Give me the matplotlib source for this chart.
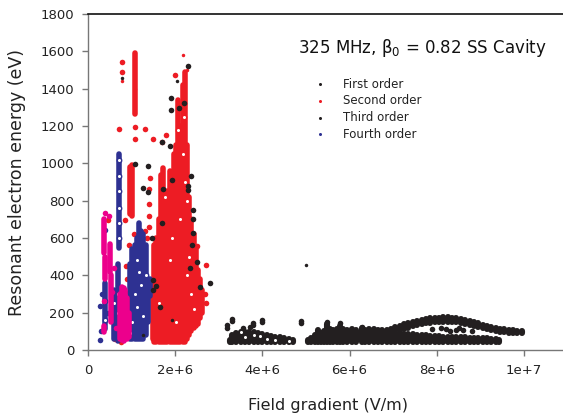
import matplotlib
matplotlib.use('Agg')
import matplotlib.pyplot as plt
from matplotlib.lines import Line2D

plt.rcParams['font.family'] = ['DejaVu Sans']
plt.rcParams['mathtext.fontset'] = 'dejavusans'

# ---------------- data (field gradient in MV/m, energy in eV) ----------------
# First order (black): vertical streaks of overlapping dots
first_x  = [3.25, 3.30, 3.40, 3.50, 3.60, 3.70, 3.80, 3.90, 4.00, 4.10, 4.20, 4.30, 4.40, 4.50, 4.60, 4.70,
            5.05, 5.12, 5.20, 5.27, 5.35, 5.42, 5.48, 5.55, 5.62, 5.70, 5.78, 5.85, 5.95, 6.05, 6.15,
            6.28, 6.35, 6.45, 6.55, 6.65, 6.75, 6.85, 6.95, 7.05, 7.15, 7.25, 7.35, 7.45, 7.55, 7.65,
            7.75, 7.85, 7.95, 8.05, 8.15, 8.25, 8.35, 8.45, 8.55, 8.65, 8.75, 8.85, 8.95, 9.05, 9.15,
            9.25, 9.35, 9.42]
first_lo = [44] * 64
first_hi = [55, 80, 90, 95, 98, 95, 98, 92, 88, 82, 76, 72, 68, 64, 60, 52,
            52, 66, 80, 105, 92, 100, 140, 115, 105, 110, 130, 112, 105, 110, 105,
            118, 105, 110, 112, 105, 106, 100, 96, 93, 90, 88, 86, 84, 82, 80,
            78, 76, 75, 74, 72, 71, 70, 69, 68, 67, 66, 65, 64, 63, 62,
            60, 58, 52]
# First order upper arc
arc_x  = [6.85, 6.95, 7.05, 7.15, 7.25, 7.35, 7.45, 7.55, 7.65, 7.75, 7.85, 7.95, 8.05, 8.15, 8.25,
          8.35, 8.45, 8.55, 8.65, 8.75, 8.85, 8.95, 9.05, 9.15, 9.25, 9.35, 9.45, 9.55, 9.65, 9.75,
          9.85, 9.95]
arc_lo = [92, 96, 102, 108, 114, 120, 126, 132, 137, 142, 146, 148, 150, 151, 151,
          150, 148, 145, 141, 136, 130, 124, 118, 112, 106, 102, 98, 95, 93, 92,
          92, 92]
arc_hi = [108, 115, 123, 131, 138, 144, 150, 155, 160, 165, 169, 172, 174, 175, 175,
          173, 170, 166, 161, 155, 149, 143, 136, 130, 124, 119, 114, 110, 107, 105,
          104, 103]
# First order single dots
first_px = [3.18, 3.18, 3.30, 3.30, 3.55, 3.72, 3.79, 3.79, 3.98, 3.98, 4.88, 4.88,
            5.48, 5.78, 6.28, 8.20, 8.30, 8.45, 8.80, 7.90, 8.60, 8.10, 8.50,
            2.29, 1.90, 1.90, 2.20, 1.70, 1.88, 1.92, 2.09, 2.30, 2.30, 2.40, 2.40, 2.40,
            1.38, 1.27, 1.38, 1.08, 1.69, 1.50, 1.50, 1.55, 2.49, 2.80, 2.34, 2.57, 1.46,
            1.72, 2.36, 2.38, 1.66]
first_py = [120, 134, 155, 168, 118, 125, 145, 132, 148, 160, 145, 156,
            150, 142, 125, 112, 100, 105, 100, 110, 108, 120, 118,
            1521, 1350, 1286, 1322, 1116, 1094, 911, 1298, 857, 880, 750, 700, 627,
            987, 870, 848, 996, 678, 375, 320, 345, 473, 361, 440, 340, 600,
            860, 930, 560, 230]
first_sx = [4.99, 0.79, 2.05, 1.92, 1.25]
first_sy = [455, 1458, 1440, 160, 80]

# Second order (red)
second_x  = [0.97, 1.01, 1.08, 1.48, 1.52, 1.57, 1.62, 1.67, 1.72, 1.77, 1.82, 1.87, 1.92, 1.97,
             2.02, 2.07, 2.12, 2.17, 2.22, 2.27, 2.32, 2.37, 2.42, 2.47, 2.52, 2.57, 2.62]
second_lo = [730, 720, 1265, 60, 45, 45, 45, 45, 45, 45, 45, 45, 45, 45,
             45, 45, 45, 45, 45, 60, 80, 100, 120, 130, 140, 170, 200]
second_hi = [980, 990, 1590, 330, 560, 600, 700, 940, 975, 720, 850, 960, 900, 1050,
             1100, 1340, 1200, 1420, 1490, 1100, 820, 700, 620, 540, 430, 380, 320]
second_px = [0.79, 0.79, 0.70, 1.30, 1.49, 1.80, 1.08, 1.08, 1.99, 2.20, 2.70, 2.70,
             2.49, 0.46, 0.84, 0.88, 0.90, 0.86, 1.35, 1.30, 1.40, 1.40, 1.40, 1.40, 1.42,
             1.69, 2.68, 0.95, 1.18, 1.05, 0.62, 0.75]
second_py = [1545, 1490, 1183, 1183, 1128, 1152, 1128, 1195, 1473, 1320, 455, 253,
             557, 696, 696, 450, 380, 310, 600, 640, 660, 720, 780, 860, 920,
             1112, 300, 560, 330, 620, 60, 45]
second_sx = [0.79, 2.19, 1.08, 2.27]
second_sy = [1442, 1583, 1400, 1500]

# Third order (magenta)
third_x  = [0.37, 0.39, 0.37, 0.50, 0.52, 0.74, 0.78, 0.82, 0.86, 0.90, 0.94]
third_lo = [520, 380, 95, 420, 150, 60, 55, 50, 60, 60, 70]
third_hi = [700, 500, 130, 570, 400, 300, 340, 330, 320, 280, 200]
third_px = [0.39, 0.48, 0.60, 0.64, 0.36, 0.55]
third_py = [735, 720, 440, 120, 260, 310]

# Fourth order (blue)
fourth_x  = [0.40, 0.60, 0.68, 0.70, 0.97, 1.02, 1.07, 1.12, 1.17, 1.22, 1.27, 1.32, 1.37, 1.43]
fourth_lo = [110, 60, 50, 545, 60, 60, 60, 60, 60, 60, 60, 80, 150, 290]
fourth_hi = [360, 320, 460, 1050, 460, 540, 560, 600, 680, 640, 620, 560, 380, 380]
fourth_px = [0.28, 0.28, 0.33, 0.39, 0.30, 0.45]
fourth_py = [54, 236, 300, 643, 100, 200]

# open-ring overlays
ring_blue_x = [0.70, 0.70, 0.70, 0.70, 0.70, 0.70, 0.68, 0.68, 0.68, 0.40, 0.40, 1.02, 1.07,
               1.12, 1.17, 1.22, 1.27, 1.12, 0.97, 1.32, 0.60]
ring_blue_y = [600, 680, 760, 850, 930, 1020, 300, 200, 120, 160, 260, 150, 300,
               230, 420, 350, 180, 480, 90, 400, 250]
ring_red_x = [2.12, 2.22, 2.17, 2.27, 1.92, 2.32, 2.37, 1.62, 1.77, 2.07, 2.20, 2.27, 2.42, 1.87, 2.02]
ring_red_y = [700, 900, 1050, 800, 600, 500, 300, 250, 820, 1180, 1250, 400, 220, 480, 150]
ring_black_x = [3.60, 3.80, 4.10, 4.30, 4.60, 3.50, 3.95]
ring_black_y = [70, 80, 60, 55, 50, 95, 75]

# text
title = '325 MHz, β$_0$ = 0.82 SS Cavity'
legend_labels = ['First order', 'Second order', 'Third order', 'Fourth order']
xticks = [0, 2e6, 4e6, 6e6, 8e6, 1e7]
xtick_labels = ['0', '2e+6', '4e+6', '6e+6', '8e+6', '1e+7']
yticks = [0, 200, 400, 600, 800, 1000, 1200, 1400, 1600, 1800]

BLACK = '#231F20'
RED = '#ED1C24'
MAG = '#EC008C'
BLUE = '#2E3192'

M = 1e6
fig = plt.figure(figsize=(5.63, 4.17), dpi=100)
ax = fig.add_axes([88 / 563, 1 - 350 / 417, 479.6 / 563, 336 / 417])

LW = 4.0
MS = 4.0


def streaks(xs, lo, hi, color, z, lw=LW):
    ax.vlines([v * M for v in xs], lo, hi, colors=color, linewidth=lw,
              capstyle='round', zorder=z)


def dots(xs, ys, color, z, ms=MS):
    ax.plot([v * M for v in xs], ys, 'o', color=color, ms=ms, mew=0, zorder=z)


def rings(xs, ys, color, z):
    ax.plot([v * M for v in xs], ys, 'o', mfc='white', mec=color, ms=3.2, mew=1.0, zorder=z)


streaks(second_x, second_lo, second_hi, RED, 2)
dots(second_px, second_py, RED, 2)
dots(second_sx, second_sy, RED, 2, ms=2.5)
rings(ring_red_x, ring_red_y, RED, 2.1)

streaks(fourth_x, fourth_lo, fourth_hi, BLUE, 3)
dots(fourth_px, fourth_py, BLUE, 3)
rings(ring_blue_x, ring_blue_y, BLUE, 3.1)

streaks(third_x, third_lo, third_hi, MAG, 4)
dots(third_px, third_py, MAG, 4)

streaks(first_x, first_lo, first_hi, BLACK, 5, lw=4.4)
streaks(arc_x, arc_lo, arc_hi, BLACK, 5, lw=4.4)
dots(first_px, first_py, BLACK, 5)
dots(first_sx, first_sy, BLACK, 5, ms=2.5)
rings(ring_black_x, ring_black_y, BLACK, 5.1)

ax.set_xlim(0, 1.1e7)
ax.set_ylim(0, 1800)
ax.set_xticks(xticks)
ax.set_xticklabels(xtick_labels)
ax.set_yticks(yticks)
ax.tick_params(direction='out', length=4, width=1, color='#777777',
               labelsize=9.5, labelcolor='#222222', pad=6)
for s in ['left', 'bottom']:
    ax.spines[s].set_color('#777777')
    ax.spines[s].set_linewidth(1.0)
ax.spines['top'].set_color('#111111')
ax.spines['top'].set_linewidth(1.2)
ax.spines['right'].set_visible(False)
ax.set_xlabel('Field gradient (V/m)', fontsize=11.5, color='#222222', labelpad=15)
ax.set_ylabel('Resonant electron energy (eV)', fontsize=12.5, color='#222222', labelpad=10)

fig.text(298 / 563, 1 - 48 / 417, title, fontsize=12, color='#111111', va='center', ha='left')

leg_colors = [BLACK, RED, BLACK, BLUE]
leg_rows = [84.3, 101, 117.7, 134.3]
for lab, c, r in zip(legend_labels, leg_colors, leg_rows):
    fig.add_artist(Line2D([319.5 / 563], [1 - r / 417], transform=fig.transFigure,
                          marker='o', ms=2.2, mew=0, color=c))
    fig.text(342.7 / 563, 1 - r / 417, lab, fontsize=8.5, color='#222222', va='center', ha='left')

fig.savefig('out.png', dpi=100)
